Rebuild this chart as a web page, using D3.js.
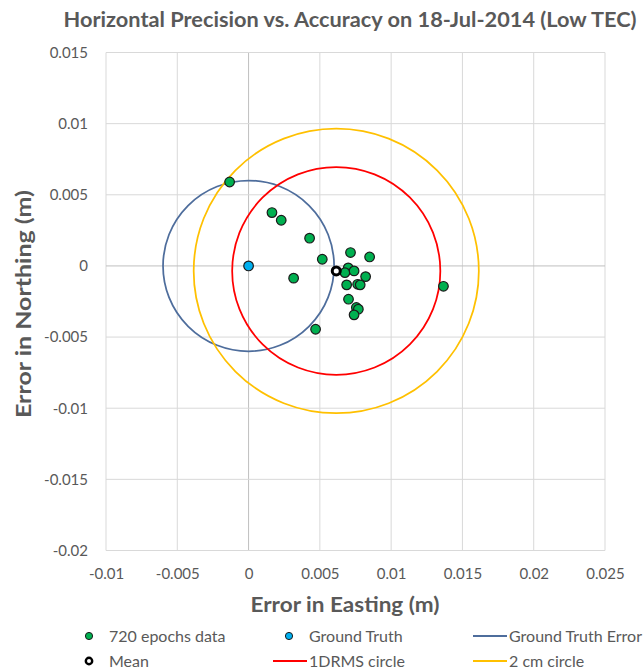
<!DOCTYPE html>
<html>
<head>
<meta charset="utf-8">
<script src="https://cdn.jsdelivr.net/npm/d3@7"></script>
<style>
  body { margin: 0; background: #fff; }
  text { font-family: Lato, "Open Sans", sans-serif; fill: #595959; }
</style>
</head>
<body>
<script>
// epochs data (m)
var easting = [-0.00133, 0.00164, 0.00229, 0.00428, 0.00517, 0.00316, 0.0047, 0.00715, 0.00849, 0.00699,
    0.00676, 0.0074, 0.00821, 0.00688, 0.00765, 0.00783, 0.00701, 0.00756, 0.0077, 0.0074, 0.01367];
var northing = [0.0059, 0.00375, 0.00321, 0.00195, 0.00047, -0.00086, -0.00445, 0.00094, 0.00063, -0.00014,
    -0.00047, -0.00035, -0.00075, -0.00133, -0.00129, -0.00133, -0.00234, -0.00292, -0.00304, -0.00344, -0.00143];
var groundTruth = [0, 0];
var meanPoint = [0.00615, -0.00035];
var groundTruthErrorRadius = 0.006;
var drmsRadius = 0.0073;
var twoCmRadius = 0.01;

var xTicks = [-0.01, -0.005, 0, 0.005, 0.01, 0.015, 0.02, 0.025];
var yTicks = [0.015, 0.01, 0.005, 0, -0.005, -0.01, -0.015, -0.02];

var width = 643, height = 672;
var margin = { top: 52.5, right: 38, bottom: 121.5, left: 106 };
var w = width - margin.left - margin.right,
    h = height - margin.top - margin.bottom;

var svg = d3.select("body").append("svg")
    .attr("width", width)
    .attr("height", height);

var x = d3.scaleLinear().domain([-0.01, 0.025]).range([margin.left, margin.left + w]);
var y = d3.scaleLinear().domain([-0.02, 0.015]).range([margin.top + h, margin.top]);

// gridlines
svg.append("g")
    .selectAll("line")
    .data(xTicks)
    .enter().append("line")
    .attr("x1", function (d) { return x(d); })
    .attr("x2", function (d) { return x(d); })
    .attr("y1", y(0.015))
    .attr("y2", y(-0.02))
    .attr("stroke", function (d) { return d === 0 ? "#bfbfbf" : "#d9d9d9"; })
    .attr("stroke-width", 1);

svg.append("g")
    .selectAll("line")
    .data(yTicks)
    .enter().append("line")
    .attr("x1", x(-0.01))
    .attr("x2", x(0.025))
    .attr("y1", function (d) { return y(d); })
    .attr("y2", function (d) { return y(d); })
    .attr("stroke", function (d) { return d === 0 ? "#bfbfbf" : "#d9d9d9"; })
    .attr("stroke-width", 1);

// axes tick labels
var fmt = function (d) { return d === 0 ? "0" : String(+d.toFixed(3)); };

var yAxis = svg.append("g")
    .attr("transform", "translate(" + (margin.left - 18) + ",0)")
    .call(d3.axisLeft(y).tickValues(yTicks).tickFormat(fmt).tickSize(0).tickPadding(0));
yAxis.select(".domain").remove();
yAxis.selectAll("text")
    .style("font-size", "15px")
    .style("font-family", "Lato, sans-serif")
    .attr("fill", "#595959");

var xAxis = svg.append("g")
    .attr("transform", "translate(0," + (margin.top + h + 18) + ")")
    .call(d3.axisBottom(x).tickValues(xTicks).tickFormat(fmt).tickSize(0).tickPadding(0));
xAxis.select(".domain").remove();
xAxis.selectAll("text")
    .style("font-size", "15px")
    .style("font-family", "Lato, sans-serif")
    .attr("fill", "#595959");

// circles
var circles = [
    { c: groundTruth, r: groundTruthErrorRadius, color: "#4e6d9c" },
    { c: meanPoint, r: drmsRadius, color: "#ff0000" },
    { c: meanPoint, r: twoCmRadius, color: "#ffc000" }
];
svg.append("g")
    .selectAll("ellipse")
    .data(circles)
    .enter().append("ellipse")
    .attr("cx", function (d) { return x(d.c[0]); })
    .attr("cy", function (d) { return y(d.c[1]); })
    .attr("rx", function (d) { return x(d.r) - x(0); })
    .attr("ry", function (d) { return y(0) - y(d.r); })
    .attr("fill", "none")
    .attr("stroke", function (d) { return d.color; })
    .attr("stroke-width", 1.75);

// data points
svg.append("g")
    .selectAll("circle")
    .data(easting)
    .enter().append("circle")
    .attr("cx", function (d) { return x(d); })
    .attr("cy", function (d, i) { return y(northing[i]); })
    .attr("r", 4.8)
    .attr("fill", "#00b050")
    .attr("stroke", "#1a1a1a")
    .attr("stroke-width", 1.2);

svg.append("circle")
    .attr("cx", x(groundTruth[0]))
    .attr("cy", y(groundTruth[1]))
    .attr("r", 4.8)
    .attr("fill", "#00b0f0")
    .attr("stroke", "#1a1a1a")
    .attr("stroke-width", 1.2);

svg.append("circle")
    .attr("cx", x(meanPoint[0]))
    .attr("cy", y(meanPoint[1]))
    .attr("r", 4)
    .attr("fill", "#fff")
    .attr("stroke", "#000")
    .attr("stroke-width", 3);

// titles
svg.append("text")
    .attr("x", 350).attr("y", 27)
    .attr("text-anchor", "middle")
    .attr("textLength", 573)
    .attr("lengthAdjust", "spacingAndGlyphs")
    .style("font-size", "20px")
    .style("font-weight", "bold")
    .text("Horizontal Precision vs. Accuracy on 18-Jul-2014 (Low TEC)");

svg.append("text")
    .attr("x", 345).attr("y", 612)
    .attr("text-anchor", "middle")
    .attr("textLength", 189)
    .attr("lengthAdjust", "spacingAndGlyphs")
    .style("font-size", "20px")
    .style("font-weight", "bold")
    .text("Error in Easting (m)");

svg.append("text")
    .attr("transform", "translate(31,304) rotate(-90)")
    .attr("text-anchor", "middle")
    .attr("textLength", 228)
    .attr("lengthAdjust", "spacingAndGlyphs")
    .style("font-size", "20px")
    .style("font-weight", "bold")
    .text("Error in Northing (m)");

// legend
var legendItems = [
    { label: "720 epochs data", type: "dot", fill: "#00b050", stroke: "#1a1a1a", x: 89, y: 636 },
    { label: "Ground Truth", type: "dot", fill: "#00b0f0", stroke: "#1a1a1a", x: 289, y: 636 },
    { label: "Ground Truth Error", type: "line", stroke: "#4e6d9c", x: 473, y: 636 },
    { label: "Mean", type: "ring", fill: "#fff", stroke: "#000", x: 89, y: 661 },
    { label: "1DRMS circle", type: "line", stroke: "#ff0000", x: 273, y: 661 },
    { label: "2 cm circle", type: "line", stroke: "#ffc000", x: 473, y: 661 }
];
var lg = svg.append("g")
    .selectAll("g")
    .data(legendItems)
    .enter().append("g")
    .attr("transform", function (d) { return "translate(" + d.x + "," + d.y + ")"; });

lg.filter(function (d) { return d.type === "dot"; })
    .append("circle")
    .attr("r", 3.6)
    .attr("fill", function (d) { return d.fill; })
    .attr("stroke", function (d) { return d.stroke; })
    .attr("stroke-width", 1);

lg.filter(function (d) { return d.type === "ring"; })
    .append("circle")
    .attr("r", 3.2)
    .attr("fill", "#fff")
    .attr("stroke", "#000")
    .attr("stroke-width", 2.4);

lg.filter(function (d) { return d.type === "line"; })
    .append("line")
    .attr("x1", 0).attr("x2", 34)
    .attr("stroke", function (d) { return d.stroke; })
    .attr("stroke-width", 2);

lg.append("text")
    .attr("x", function (d) { return d.type === "line" ? 36 : 20; })
    .attr("y", 6)
    .style("font-size", "16px")
    .text(function (d) { return d.label; });
</script>
</body>
</html>
